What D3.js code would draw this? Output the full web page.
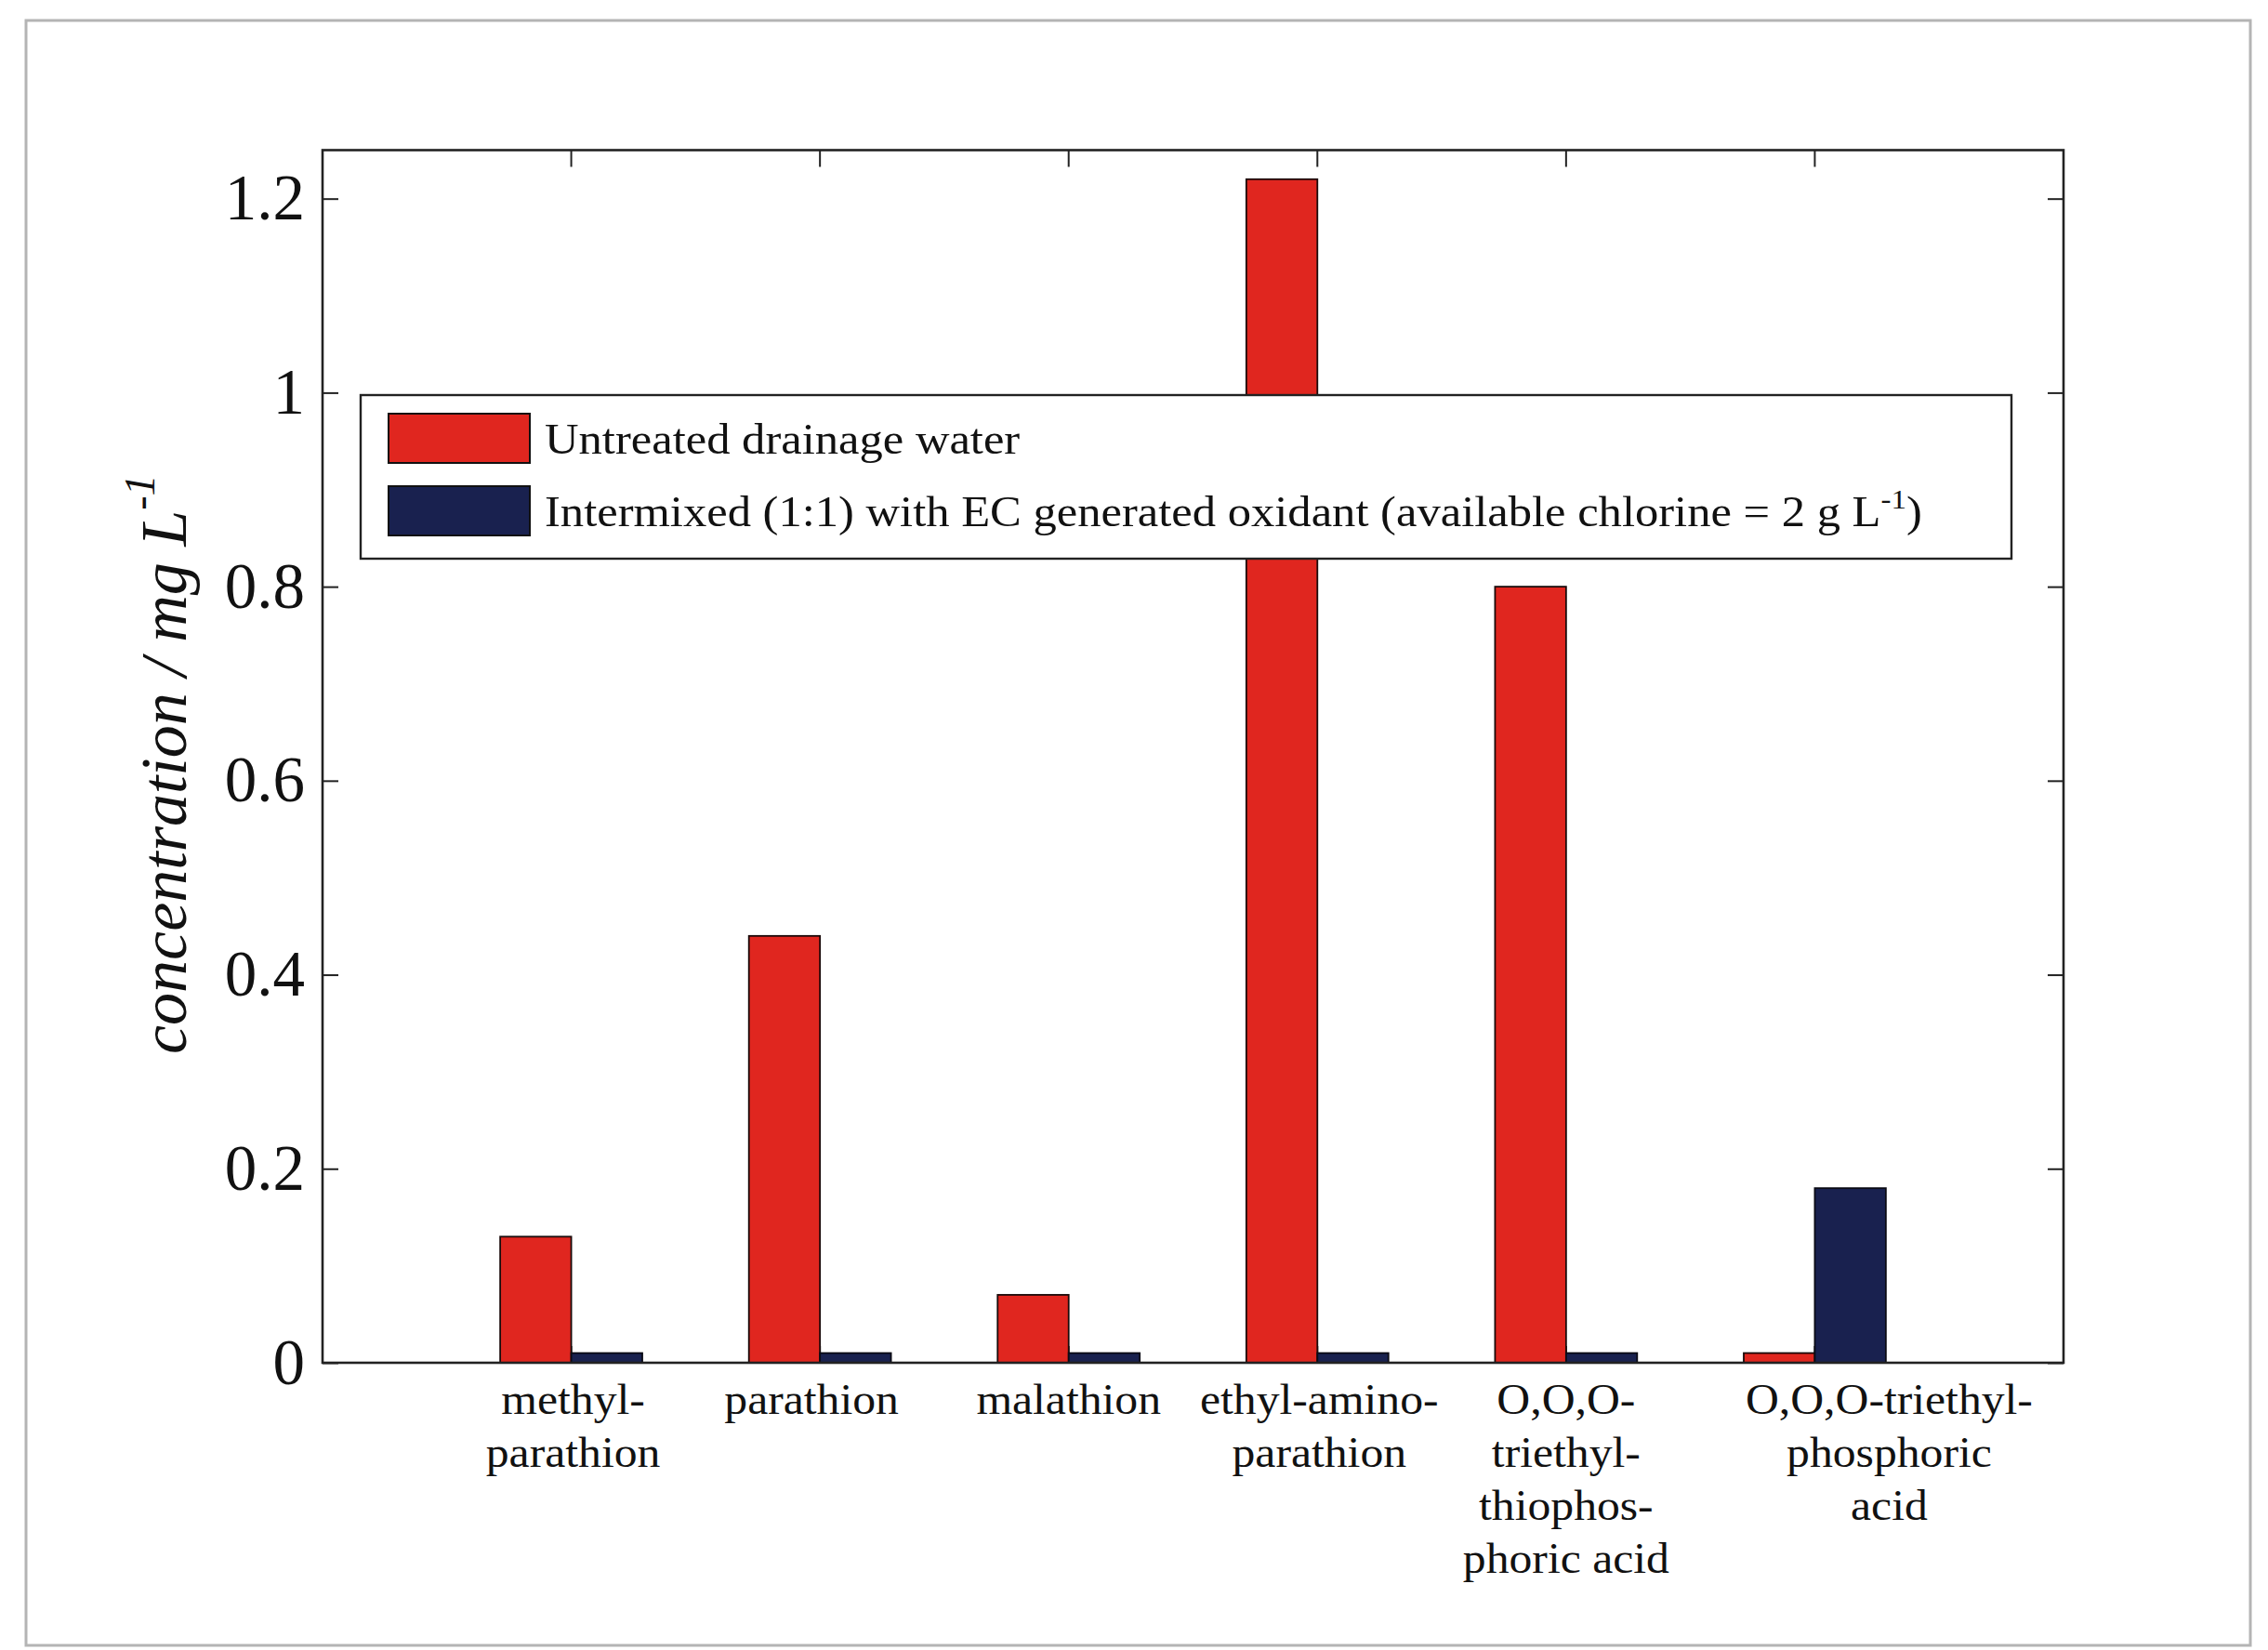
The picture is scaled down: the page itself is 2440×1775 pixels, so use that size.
<!DOCTYPE html>
<html>
<head>
<meta charset="utf-8">
<script src="https://cdn.jsdelivr.net/npm/d3@7/dist/d3.min.js"></script>
<style>
  body { margin: 0; background: #fff; }
  text { font-family: "Liberation Serif", "Times New Roman", serif; fill: #111; }
</style>
</head>
<body>
<svg id="chart" width="2440" height="1775"></svg>
<script>
// data
var compounds = [
    ["methyl-", "parathion"],
    ["parathion"],
    ["malathion"],
    ["ethyl-amino-", "parathion"],
    ["O,O,O-", "triethyl-", "thiophos-", "phoric acid"],
    ["O,O,O-triethyl-", "phosphoric", "acid"]
];
var untreated  = [0.13, 0.44, 0.07, 1.22, 0.80, 0.01];
var intermixed = [0.01, 0.01, 0.01, 0.01, 0.01, 0.18];
var yTicks = [0, 0.2, 0.4, 0.6, 0.8, 1, 1.2];
var seriesNames = ["Untreated drainage water",
                   "Intermixed (1:1) with EC generated oxidant (available chlorine = 2 g L"];

var svg = d3.select("#chart");

// light frame round the figure
svg.append("rect")
    .attr("x", 28).attr("y", 22)
    .attr("width", 2393).attr("height", 1748)
    .attr("fill", "none")
    .attr("stroke", "#b4b4b4")
    .attr("stroke-width", 3);

// scales (matlab style: categories at 1..6, x limits 0..7)
var x = d3.scaleLinear().domain([0, 7]).range([347, 2220]);
var y = d3.scaleLinear().domain([0, 1.25]).range([1466, 161.5]);
var barW = 0.2857;

var red = "#e0261f", navy = "#19214f";

// bottom ticks go under the bars
var catTicks = d3.range(1, compounds.length + 1);
svg.append("g").selectAll("line.bt")
    .data(catTicks).enter().append("line")
    .attr("x1", d => x(d)).attr("x2", d => x(d))
    .attr("y1", y(0)).attr("y2", y(0) - 18)
    .attr("stroke", "#222").attr("stroke-width", 2);

// bars
var bars = svg.append("g");
bars.selectAll("rect.untreated")
    .data(untreated).enter().append("rect")
    .attr("x", (d, i) => x(i + 1 - barW))
    .attr("width", x(barW) - x(0))
    .attr("y", d => y(d))
    .attr("height", d => y(0) - y(d))
    .attr("fill", red)
    .attr("stroke", "#1a0a0a").attr("stroke-width", 1.8);

bars.selectAll("rect.intermixed")
    .data(intermixed).enter().append("rect")
    .attr("x", (d, i) => x(i + 1))
    .attr("width", x(barW) - x(0))
    .attr("y", d => y(d))
    .attr("height", d => y(0) - y(d))
    .attr("fill", navy)
    .attr("stroke", "#0a0a14").attr("stroke-width", 1.8);

// axes box
svg.append("rect")
    .attr("x", x(0)).attr("y", y(1.25))
    .attr("width", x(7) - x(0)).attr("height", y(0) - y(1.25))
    .attr("fill", "none")
    .attr("stroke", "#222").attr("stroke-width", 2.6);

// y axis, ticks inside
var yAxis = svg.append("g")
    .attr("transform", "translate(" + x(0) + ",0)")
    .call(d3.axisLeft(y).tickValues(yTicks).tickSize(-17).tickPadding(19)
        .tickFormat(d3.format("~g")));
yAxis.select(".domain").remove();
yAxis.selectAll(".tick line").attr("stroke", "#222").attr("stroke-width", 2);
yAxis.selectAll(".tick text")
    .attr("font-family", "Liberation Serif")
    .attr("font-size", 69)
    .attr("fill", "#111");

// right side ticks
var yRight = svg.append("g")
    .attr("transform", "translate(" + x(7) + ",0)")
    .call(d3.axisRight(y).tickValues(yTicks).tickSize(-17).tickFormat(""));
yRight.select(".domain").remove();
yRight.selectAll(".tick line").attr("stroke", "#222").attr("stroke-width", 2);

// top ticks
svg.append("g").selectAll("line.tt")
    .data(catTicks).enter().append("line")
    .attr("x1", d => x(d)).attr("x2", d => x(d))
    .attr("y1", y(1.25)).attr("y2", y(1.25) + 18)
    .attr("stroke", "#222").attr("stroke-width", 2);

// category labels (multi line, a bit wide like the original)
var labelShift = [2, -9, 0, 2, 0, 80];
var xl = svg.append("g");
compounds.forEach(function(lines, i) {
    var t = xl.append("text")
        .attr("transform", "translate(" + (x(i + 1) + labelShift[i]) + ",1521) scale(1.08,1)")
        .attr("text-anchor", "middle")
        .attr("font-size", 46);
    lines.forEach(function(s, j) {
        t.append("tspan").attr("x", 0).attr("y", j * 57).text(s);
    });
});

// y label
var yl = svg.append("text")
    .attr("transform", "translate(200,1134) rotate(-90)")
    .attr("font-size", 70)
    .attr("font-style", "italic");
yl.append("tspan").text("concentration / mg L");
yl.append("tspan").attr("font-size", 46).attr("dy", -34).text("-1");

// legend
var lg = svg.append("g");
lg.append("rect")
    .attr("x", 388).attr("y", 425)
    .attr("width", 1776).attr("height", 176)
    .attr("fill", "#fff")
    .attr("stroke", "#222").attr("stroke-width", 2.4);

var swatch = [red, navy];
var rowY = [445, 523];
seriesNames.forEach(function(name, i) {
    lg.append("rect")
        .attr("x", 418).attr("y", rowY[i])
        .attr("width", 152).attr("height", 53)
        .attr("fill", swatch[i])
        .attr("stroke", "#111").attr("stroke-width", 2);
    var t = lg.append("text")
        .attr("transform", "translate(586," + (rowY[i] + 43) + ") scale(1.1,1)")
        .attr("font-size", 46);
    t.append("tspan").text(name);
    if (i == 1) {
        t.append("tspan").attr("font-size", 30).attr("dy", -19).text("-1");
        t.append("tspan").attr("dy", 19).text(")");
    }
});
</script>
</body>
</html>
